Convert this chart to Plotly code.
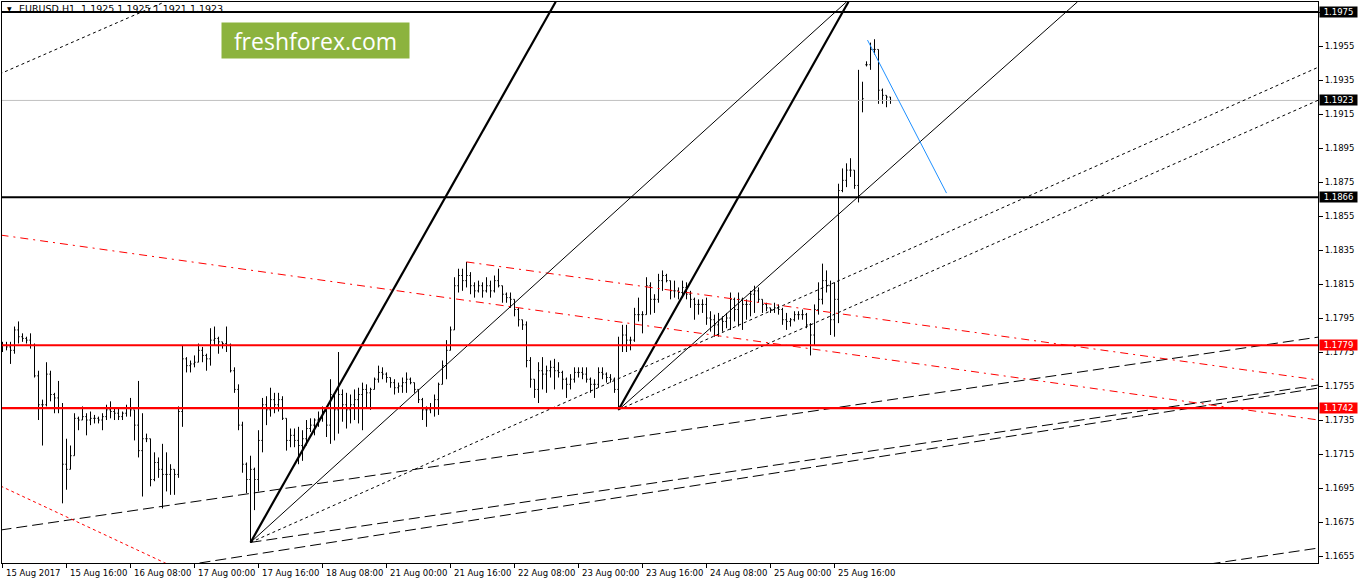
import plotly.graph_objects as go

# EURUSD H1 bars (bar index 0 = 15 Aug 2017 00:00)
opens = [
    1.1779, 1.1779, 1.1778, 1.1776, 1.1788, 1.1784, 1.1783, 1.1782, 1.1779, 1.1761,
    1.1744, 1.1744, 1.1762, 1.1750, 1.1748, 1.1742, 1.1709, 1.1706, 1.1714, 1.1736,
    1.1735, 1.1737, 1.1735, 1.1736, 1.1736, 1.1735, 1.1737, 1.1741, 1.1740, 1.1739,
    1.1737, 1.1739, 1.1742, 1.1741, 1.1732, 1.1717, 1.1724, 1.1724, 1.1700, 1.1710,
    1.1706, 1.1703, 1.1703, 1.1706, 1.1703, 1.1740, 1.1771, 1.1767, 1.1768, 1.1769,
    1.1776, 1.1773, 1.1771, 1.1782, 1.1783, 1.1781, 1.1780, 1.1779, 1.1764, 1.1753,
    1.1732, 1.1709, 1.1700, 1.1706, 1.1700, 1.1723, 1.1744, 1.1741, 1.1747, 1.1744,
    1.1747, 1.1736, 1.1723, 1.1726, 1.1723, 1.1720, 1.1724, 1.1730, 1.1732, 1.1735,
    1.1736, 1.1740, 1.1732, 1.1750, 1.1741, 1.1750, 1.1744, 1.1741, 1.1744, 1.1747,
    1.1750, 1.1753, 1.1751, 1.1753, 1.1759, 1.1763, 1.1762, 1.1760, 1.1757, 1.1754,
    1.1755, 1.1757, 1.1759, 1.1757, 1.1753, 1.1747, 1.1741, 1.1741, 1.1742, 1.1747,
    1.1756, 1.1767, 1.1776, 1.1788, 1.1814, 1.1820, 1.1817, 1.1820, 1.1814, 1.1811,
    1.1814, 1.1811, 1.1814, 1.1811, 1.1817, 1.1814, 1.1809, 1.1807, 1.1806, 1.1800,
    1.1794, 1.1791, 1.1770, 1.1759, 1.1753, 1.1764, 1.1762, 1.1764, 1.1766, 1.1764,
    1.1763, 1.1759, 1.1756, 1.1759, 1.1763, 1.1763, 1.1762, 1.1759, 1.1756, 1.1756,
    1.1763, 1.1762, 1.1760, 1.1759, 1.1753, 1.1779, 1.1785, 1.1782, 1.1782, 1.1797,
    1.1797, 1.1797, 1.1814, 1.1806, 1.1806, 1.1817, 1.1820, 1.1817, 1.1811, 1.1811,
    1.1810, 1.1813, 1.1809, 1.1806, 1.1803, 1.1803, 1.1803, 1.1795, 1.1794, 1.1791,
    1.1794, 1.1793, 1.1795, 1.1806, 1.1800, 1.1806, 1.1803, 1.1803, 1.1809, 1.1811,
    1.1806, 1.1803, 1.1801, 1.1800, 1.1801, 1.1800, 1.1794, 1.1793, 1.1794, 1.1797,
    1.1797, 1.1797, 1.1791, 1.1785, 1.1800, 1.1806, 1.1817, 1.1814, 1.1794, 1.1806,
    1.1870, 1.1876, 1.1882, 1.1882, 1.1873, 1.1923, 1.1944, 1.1944, 1.1953, 1.1953,
    1.1929, 1.1926, 1.1925,
]
highs = [
    1.1781, 1.1781, 1.1781, 1.1790, 1.1793, 1.1786, 1.1784, 1.1786, 1.1780, 1.1764,
    1.1747, 1.1769, 1.1764, 1.1751, 1.1758, 1.1745, 1.1724, 1.1720, 1.1739, 1.1737,
    1.1743, 1.1739, 1.1740, 1.1738, 1.1737, 1.1739, 1.1744, 1.1746, 1.1742, 1.1742,
    1.1740, 1.1744, 1.1748, 1.1741, 1.1758, 1.1739, 1.1727, 1.1724, 1.1716, 1.1713,
    1.1721, 1.1716, 1.1709, 1.1706, 1.1743, 1.1779, 1.1772, 1.1770, 1.1773, 1.1780,
    1.1778, 1.1774, 1.1789, 1.1790, 1.1784, 1.1781, 1.1790, 1.1780, 1.1766, 1.1756,
    1.1734, 1.1710, 1.1714, 1.1707, 1.1729, 1.1748, 1.1749, 1.1754, 1.1751, 1.1751,
    1.1749, 1.1736, 1.1730, 1.1730, 1.1731, 1.1729, 1.1735, 1.1736, 1.1736, 1.1740,
    1.1743, 1.1742, 1.1759, 1.1751, 1.1775, 1.1753, 1.1751, 1.1750, 1.1753, 1.1754,
    1.1757, 1.1756, 1.1754, 1.1760, 1.1767, 1.1766, 1.1763, 1.1760, 1.1759, 1.1757,
    1.1760, 1.1763, 1.1760, 1.1757, 1.1753, 1.1748, 1.1743, 1.1745, 1.1750, 1.1757,
    1.1770, 1.1782, 1.1790, 1.1819, 1.1824, 1.1824, 1.1828, 1.1822, 1.1816, 1.1817,
    1.1816, 1.1819, 1.1817, 1.1820, 1.1824, 1.1814, 1.1810, 1.1810, 1.1806, 1.1801,
    1.1794, 1.1793, 1.1772, 1.1759, 1.1769, 1.1772, 1.1767, 1.1770, 1.1771, 1.1769,
    1.1764, 1.1760, 1.1762, 1.1766, 1.1766, 1.1766, 1.1766, 1.1760, 1.1759, 1.1766,
    1.1766, 1.1763, 1.1762, 1.1760, 1.1784, 1.1791, 1.1791, 1.1784, 1.1801, 1.1807,
    1.1799, 1.1819, 1.1816, 1.1809, 1.1821, 1.1823, 1.1821, 1.1817, 1.1817, 1.1813,
    1.1817, 1.1816, 1.1811, 1.1807, 1.1806, 1.1806, 1.1807, 1.1799, 1.1797, 1.1798,
    1.1796, 1.1798, 1.1810, 1.1807, 1.1810, 1.1807, 1.1806, 1.1811, 1.1814, 1.1813,
    1.1806, 1.1804, 1.1801, 1.1804, 1.1803, 1.1801, 1.1798, 1.1795, 1.1799, 1.1799,
    1.1800, 1.1798, 1.1792, 1.1803, 1.1816, 1.1827, 1.1823, 1.1817, 1.1816, 1.1874,
    1.1883, 1.1886, 1.1889, 1.1882, 1.1941, 1.1934, 1.1946, 1.1957, 1.1959, 1.1953,
    1.1930, 1.1926, 1.1925,
]
lows = [
    1.1775, 1.1776, 1.1768, 1.1774, 1.1780, 1.1781, 1.1780, 1.1777, 1.1760, 1.1735,
    1.1720, 1.1743, 1.1746, 1.1739, 1.1739, 1.1686, 1.1694, 1.1706, 1.1714, 1.1729,
    1.1735, 1.1726, 1.1732, 1.1733, 1.1733, 1.1729, 1.1735, 1.1736, 1.1735, 1.1735,
    1.1735, 1.1737, 1.1737, 1.1723, 1.1713, 1.1690, 1.1722, 1.1696, 1.1699, 1.1701,
    1.1683, 1.1693, 1.1691, 1.1691, 1.1701, 1.1731, 1.1763, 1.1763, 1.1766, 1.1769,
    1.1769, 1.1764, 1.1767, 1.1779, 1.1774, 1.1777, 1.1775, 1.1763, 1.1751, 1.1729,
    1.1704, 1.1692, 1.1663, 1.1682, 1.1693, 1.1716, 1.1732, 1.1737, 1.1739, 1.1740,
    1.1735, 1.1717, 1.1719, 1.1719, 1.1709, 1.1711, 1.1720, 1.1728, 1.1726, 1.1731,
    1.1734, 1.1725, 1.1721, 1.1723, 1.1727, 1.1734, 1.1730, 1.1733, 1.1735, 1.1733,
    1.1729, 1.1742, 1.1741, 1.1753, 1.1757, 1.1759, 1.1757, 1.1754, 1.1750, 1.1751,
    1.1751, 1.1751, 1.1756, 1.1751, 1.1745, 1.1735, 1.1731, 1.1739, 1.1737, 1.1738,
    1.1756, 1.1759, 1.1776, 1.1788, 1.1810, 1.1811, 1.1813, 1.1809, 1.1807, 1.1810,
    1.1807, 1.1810, 1.1807, 1.1810, 1.1813, 1.1804, 1.1804, 1.1801, 1.1796, 1.1790,
    1.1788, 1.1766, 1.1754, 1.1748, 1.1745, 1.1753, 1.1751, 1.1760, 1.1753, 1.1760,
    1.1753, 1.1748, 1.1753, 1.1757, 1.1760, 1.1759, 1.1757, 1.1751, 1.1748, 1.1754,
    1.1759, 1.1757, 1.1757, 1.1751, 1.1741, 1.1775, 1.1775, 1.1776, 1.1781, 1.1793,
    1.1786, 1.1797, 1.1797, 1.1798, 1.1804, 1.1811, 1.1816, 1.1806, 1.1807, 1.1806,
    1.1807, 1.1806, 1.1801, 1.1794, 1.1797, 1.1798, 1.1791, 1.1787, 1.1784, 1.1784,
    1.1787, 1.1789, 1.1788, 1.1793, 1.1790, 1.1788, 1.1794, 1.1796, 1.1798, 1.1804,
    1.1798, 1.1799, 1.1798, 1.1798, 1.1797, 1.1791, 1.1788, 1.1790, 1.1793, 1.1794,
    1.1794, 1.1789, 1.1773, 1.1779, 1.1797, 1.1803, 1.1810, 1.1785, 1.1784, 1.1792,
    1.1869, 1.1872, 1.1878, 1.1871, 1.1863, 1.1916, 1.1943, 1.1941, 1.1950, 1.1921,
    1.1921, 1.1919, 1.1921,
]
closes = [
    1.1779, 1.1778, 1.1776, 1.1788, 1.1784, 1.1783, 1.1782, 1.1779, 1.1761, 1.1744,
    1.1744, 1.1762, 1.1750, 1.1748, 1.1742, 1.1709, 1.1706, 1.1714, 1.1736, 1.1735,
    1.1737, 1.1735, 1.1736, 1.1736, 1.1735, 1.1737, 1.1741, 1.1740, 1.1739, 1.1737,
    1.1739, 1.1742, 1.1741, 1.1732, 1.1717, 1.1724, 1.1724, 1.1700, 1.1710, 1.1706,
    1.1703, 1.1703, 1.1706, 1.1703, 1.1740, 1.1771, 1.1767, 1.1768, 1.1769, 1.1776,
    1.1773, 1.1771, 1.1782, 1.1783, 1.1781, 1.1780, 1.1779, 1.1764, 1.1753, 1.1732,
    1.1709, 1.1700, 1.1706, 1.1700, 1.1723, 1.1744, 1.1741, 1.1747, 1.1744, 1.1747,
    1.1736, 1.1723, 1.1726, 1.1723, 1.1720, 1.1724, 1.1730, 1.1732, 1.1735, 1.1736,
    1.1740, 1.1732, 1.1750, 1.1741, 1.1750, 1.1744, 1.1741, 1.1744, 1.1747, 1.1750,
    1.1753, 1.1751, 1.1753, 1.1759, 1.1763, 1.1762, 1.1760, 1.1757, 1.1754, 1.1755,
    1.1757, 1.1759, 1.1757, 1.1753, 1.1747, 1.1741, 1.1741, 1.1742, 1.1747, 1.1756,
    1.1767, 1.1776, 1.1788, 1.1814, 1.1820, 1.1817, 1.1820, 1.1814, 1.1811, 1.1814,
    1.1811, 1.1814, 1.1811, 1.1817, 1.1814, 1.1809, 1.1807, 1.1806, 1.1800, 1.1794,
    1.1791, 1.1770, 1.1759, 1.1753, 1.1764, 1.1762, 1.1764, 1.1766, 1.1764, 1.1763,
    1.1759, 1.1756, 1.1759, 1.1763, 1.1763, 1.1762, 1.1759, 1.1756, 1.1756, 1.1763,
    1.1762, 1.1760, 1.1759, 1.1753, 1.1779, 1.1785, 1.1782, 1.1782, 1.1797, 1.1797,
    1.1797, 1.1814, 1.1806, 1.1806, 1.1817, 1.1820, 1.1817, 1.1811, 1.1811, 1.1810,
    1.1813, 1.1809, 1.1806, 1.1803, 1.1803, 1.1803, 1.1795, 1.1794, 1.1791, 1.1794,
    1.1793, 1.1795, 1.1806, 1.1800, 1.1806, 1.1803, 1.1803, 1.1809, 1.1811, 1.1806,
    1.1803, 1.1801, 1.1800, 1.1801, 1.1800, 1.1794, 1.1793, 1.1794, 1.1797, 1.1797,
    1.1797, 1.1791, 1.1785, 1.1800, 1.1806, 1.1817, 1.1814, 1.1794, 1.1806, 1.1870,
    1.1876, 1.1882, 1.1882, 1.1873, 1.1923, 1.1924, 1.1944, 1.1953, 1.1953, 1.1929,
    1.1926, 1.1925, 1.1923,
]
bars = list(range(len(closes)))

# time axis labels (every 16 bars)
time_ticks = [0, 16, 32, 48, 64, 80, 96, 112, 128, 144, 160, 176, 192, 208]
time_labels = ["15 Aug 2017", "15 Aug 16:00", "16 Aug 08:00", "17 Aug 00:00",
               "17 Aug 16:00", "18 Aug 08:00", "21 Aug 00:00", "21 Aug 16:00",
               "22 Aug 08:00", "23 Aug 00:00", "23 Aug 16:00", "24 Aug 08:00",
               "25 Aug 00:00", "25 Aug 16:00"]
price_ticks = [1.1655, 1.1675, 1.1695, 1.1715, 1.1735, 1.1755, 1.1775, 1.1795,
               1.1815, 1.1835, 1.1855, 1.1875, 1.1895, 1.1915, 1.1935, 1.1955, 1.1975]

# horizontal levels
black_levels = [1.1975, 1.1866]
red_levels = [1.1779, 1.1742]
bid_level = 1.1923

# trend lines: ([bar, bar], [price, price])
thick_lines = [([62, 138.3], [1.1663, 1.1981]), ([154, 211.5], [1.1741, 1.1981])]
thin_lines = [([62, 211.0], [1.1663, 1.1981]), ([154, 268.75], [1.1741, 1.1981])]
dot_lines = [([62, 329], [1.1663, 1.19426]), ([154, 329], [1.1741, 1.19232]),
             ([-0.75, 40.5], [1.19385, 1.19809])]
dash_lines = [([-0.5, 329], [1.16703, 1.17838]), ([62, 329], [1.1663, 1.17556]),
              ([49.25, 329], [1.16509, 1.17538]), ([301.75, 329], [1.16503, 1.16597])]
red_dashdot_lines = [([116, 329], [1.1828, 1.17585]), ([-0.5, 329], [1.18438, 1.1735])]
red_dot_lines = [([-0.5, 41.75], [1.16962, 1.16497])]
blue_lines = [([216.25, 236], [1.19585, 1.18685])]

FONT = "DejaVu Sans"
x_range = [-0.125, 328.875]
y_range = [1.16509, 1.19809]

fig = go.Figure()

fig.add_trace(go.Scatter(x=[-1, 330], y=[bid_level, bid_level], mode="lines",
                         line=dict(color="#c0c0c0", width=1), hoverinfo="skip"))

fig.add_trace(go.Ohlc(
    x=bars, open=opens, high=highs, low=lows, close=closes,
    increasing=dict(line=dict(color="black", width=1)),
    decreasing=dict(line=dict(color="black", width=1)),
    tickwidth=0.3, hoverinfo="skip",
))


def add_lines(lines, color, width, dash="solid"):
    for xs, ys in lines:
        fig.add_trace(go.Scatter(x=xs, y=ys, mode="lines", hoverinfo="skip",
                                 line=dict(color=color, width=width, dash=dash)))


add_lines(dash_lines, "black", 1, "11px,5px")
add_lines(dot_lines, "black", 1, "3px,3px")
add_lines(red_dashdot_lines, "red", 1, "8px,5px,2px,5px")
add_lines(red_dot_lines, "red", 1, "3px,3px")
add_lines(thin_lines, "black", 1)
add_lines(thick_lines, "black", 2.2)
add_lines(blue_lines, "#1e90ff", 1)
add_lines([([-1, 330], [p, p]) for p in black_levels], "black", 2)
add_lines([([-1, 330], [p, p]) for p in red_levels], "red", 2.2)

annotations = []
for tv, tl in zip(time_ticks, time_labels):
    annotations.append(dict(x=tv, xref="x", y=0, yref="paper", text=tl, showarrow=False,
                            xanchor="left", yanchor="top", xshift=1, yshift=-3,
                            font=dict(family=FONT, size=8.5, color="black")))

for p, bg in [(1.1975, "black"), (bid_level, "black"), (1.1866, "black"),
              (1.1779, "red"), (1.1742, "red")]:
    annotations.append(dict(x=1, xref="paper", y=p, yref="y", text=f"{p:.4f}",
                            showarrow=False, xanchor="left", yanchor="middle", xshift=1,
                            bgcolor=bg, width=37, height=10, borderpad=0,
                            font=dict(family=FONT, size=8.5, color="white")))

annotations.append(dict(x=0, xref="paper", y=1, yref="paper", text="▼", showarrow=False,
                        xanchor="left", yanchor="top", xshift=3, yshift=-1,
                        font=dict(family=FONT, size=6, color="black")))
annotations.append(dict(x=0, xref="paper", y=1, yref="paper",
                        text="EURUSD,H1  1.1925 1.1925 1.1921 1.1923", showarrow=False,
                        xanchor="left", yanchor="top", xshift=15, yshift=1,
                        font=dict(family=FONT, size=9.5, color="black")))
annotations.append(dict(x=(221 - 2) / 1316, xref="paper", y=(563 - 22) / 561, yref="paper",
                        text="freshforex.com", showarrow=False, xanchor="left",
                        yanchor="top", width=187, height=35, borderpad=0,
                        bgcolor="#8cb33e",
                        font=dict(family="Open Sans", size=23, color="white")))

fig.update_layout(
    width=1358,
    height=584,
    margin=dict(l=2, r=40, t=2, b=21),
    paper_bgcolor="white",
    plot_bgcolor="white",
    showlegend=False,
    hovermode=False,
    annotations=annotations,
    xaxis=dict(range=x_range, showgrid=False, zeroline=False, showline=True,
               linecolor="black", linewidth=1, mirror=True, ticks="outside",
               ticklen=4, tickcolor="black", tickvals=time_ticks,
               showticklabels=False, rangeslider=dict(visible=False), fixedrange=True),
    yaxis=dict(range=y_range, side="right", showgrid=False, zeroline=False, showline=True,
               linecolor="black", linewidth=1, mirror=True, ticks="outside",
               ticklen=4, tickcolor="black", tickvals=price_ticks, tickformat=".4f",
               tickfont=dict(family=FONT, size=8.5, color="black"), fixedrange=True),
)

fig.write_html("out.html", config={"displayModeBar": False},
               post_script="document.body.style.margin='0';")
